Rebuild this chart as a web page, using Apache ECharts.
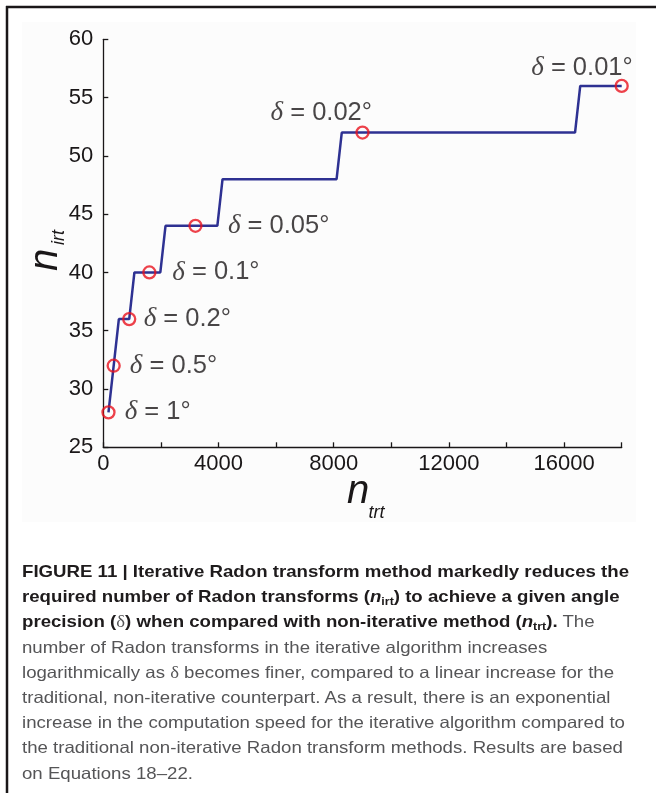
<!DOCTYPE html>
<html>
<head>
<meta charset="utf-8">
<script src="https://cdn.jsdelivr.net/npm/echarts@6/dist/echarts.min.js"></script>
<style>
  html, body { margin: 0; padding: 0; background: #fff; }
  #wrap { position: relative; width: 656px; height: 793px; overflow: hidden; }
  #chart { position: absolute; left: 0; top: 0; width: 656px; height: 793px; }
  #caption {
    position: absolute; left: 22px; top: 559px;
    font-family: 'Liberation Sans', Arial, sans-serif;
    font-size: 16.5px; line-height: 25.2px; color: #555557;
    white-space: nowrap; transform-origin: 0 0;
  }
  #caption b { color: #1e1b1c; }
  #caption sub { font-size: 11px; vertical-align: -3px; line-height: 0; }
  #caption .sym { font-family: 'Liberation Serif', 'Times New Roman', serif; }
</style>
</head>
<body>
<div id="wrap">
  <div id="chart"></div>
  <div id="caption"><span id="capLine1"><b>FIGURE 11 | Iterative Radon transform method markedly reduces the</b></span><br><b>required number of Radon transforms (<i>n</i><sub>irt</sub>) to achieve a given angle</b><br><b>precision (</b><span class="sym">δ</span><b>) when compared with non-iterative method (<i>n</i><sub>trt</sub>).</b> The<br>number of Radon transforms in the iterative algorithm increases<br>logarithmically as <span class="sym">δ</span> becomes finer, compared to a linear increase for the<br>traditional, non-iterative counterpart. As a result, there is an exponential<br>increase in the computation speed for the iterative algorithm compared to<br>the traditional non-iterative Radon transform methods. Results are based<br>on Equations 18–22.</div>
</div>
<script>
// Staircase of iterative transforms (n_irt) against non-iterative transforms (n_trt)
const stepTrt = [180, 540, 900, 1080, 1980, 2160, 3960, 4140, 8100, 8280, 16380, 16560, 18000];
const stepIrt = [28, 36, 36, 40, 40, 44, 44, 48, 48, 52, 52, 56, 56];

// Marked angle precisions
const deltaText = ['1°', '0.5°', '0.2°', '0.1°', '0.05°', '0.02°', '0.01°'];
const deltaTrt = [180, 360, 900, 1600, 3200, 9000, 18000];
const deltaIrt = [28, 32, 36, 40, 44, 52, 56];

// Axis ticks
const xTickLabels = [0, 4000, 8000, 12000, 16000];
const yTickLabels = [25, 30, 35, 40, 45, 50, 55, 60];

const INK = '#1a1718';
const SANS = "'Liberation Sans', Arial, Helvetica, sans-serif";
const SERIF = "'Liberation Serif', 'Times New Roman', serif";

// where each precision label sits relative to its circle
const labelPlacement = [
  { align: 'left', offset: [16.2, 0] },
  { align: 'left', offset: [16.2, 0] },
  { align: 'left', offset: [14.5, 0] },
  { align: 'left', offset: [22.9, 0] },
  { align: 'left', offset: [32.5, 0] },
  { align: 'right', offset: [9.5, -19.5] },
  { align: 'right', offset: [11, -18] }
];

const stepData = stepTrt.map((x, i) => [x, stepIrt[i]]);
const markData = deltaTrt.map((x, i) => ({
  value: [x, deltaIrt[i]],
  label: {
    formatter: '{d|δ}{t| = ' + deltaText[i] + '}',
    align: labelPlacement[i].align,
    offset: labelPlacement[i].offset
  }
}));

const chart = echarts.init(document.getElementById('chart'), null, { renderer: 'canvas' });

chart.setOption({
  animation: false,
  backgroundColor: '#ffffff',
  grid: { left: 103.3, top: 39.3, width: 518.4, height: 408, containLabel: false, outerBoundsMode: 'none' },
  xAxis: {
    type: 'value', min: 0, max: 18000, interval: 2000,
    axisLine: { show: true, onZero: false, lineStyle: { color: INK, width: 1.3 } },
    axisTick: { show: true, inside: true, length: 5, lineStyle: { color: INK, width: 1.3 } },
    splitLine: { show: false },
    axisLabel: {
      formatter: v => (xTickLabels.indexOf(v) >= 0 ? String(v) : ''),
      color: INK, fontSize: 22, fontFamily: SANS, margin: 6
    }
  },
  yAxis: {
    type: 'value', min: 25, max: 60, interval: 5,
    axisLine: { show: true, onZero: false, lineStyle: { color: INK, width: 1.3 } },
    axisTick: { show: true, inside: true, length: 5, lineStyle: { color: INK, width: 1.3 } },
    splitLine: { show: false },
    axisLabel: {
      formatter: v => (yTickLabels.indexOf(v) >= 0 ? String(v) : ''),
      color: INK, fontSize: 22, fontFamily: SANS, margin: 10
    }
  },
  series: [
    {
      type: 'line',
      data: stepData,
      showSymbol: false,
      lineStyle: { color: '#2e3192', width: 2.5 },
      z: 2
    },
    {
      type: 'scatter',
      data: markData,
      symbol: 'circle',
      symbolSize: 12,
      itemStyle: { color: 'rgba(0,0,0,0)', borderColor: '#e8121d', borderWidth: 2.3 },
      label: {
        show: true,
        position: 'inside',
        verticalAlign: 'middle',
        color: INK,
        rich: {
          d: { fontFamily: SERIF, fontStyle: 'italic', fontSize: 27, color: INK },
          t: { fontFamily: SANS, fontSize: 25.5, color: INK }
        }
      },
      z: 3
    }
  ],
  graphic: [
    // light panel behind the figure
    { type: 'rect', z: -100, silent: true,
      shape: { x: 22, y: 22, width: 614, height: 500 },
      style: { fill: '#fcfcfc' } },
    // page rules
    { type: 'line', silent: true, shape: { x1: 6, y1: 7, x2: 656, y2: 7 },
      style: { stroke: INK, lineWidth: 2.5 } },
    { type: 'line', silent: true, shape: { x1: 7, y1: 6, x2: 7, y2: 793 },
      style: { stroke: INK, lineWidth: 2.5 } },
    // x-axis title n_trt
    { type: 'text', silent: true, x: 358, y: 491.5,
      style: { text: 'n', font: 'italic 40px ' + SANS, fill: INK, align: 'center', verticalAlign: 'middle' } },
    { type: 'text', silent: true, x: 376.5, y: 512.8,
      style: { text: 'trt', font: 'italic 18px ' + SANS, fill: INK, align: 'center', verticalAlign: 'middle' } },
    // y-axis title n_irt
    { type: 'text', silent: true, x: 46, y: 260, rotation: Math.PI / 2,
      style: { text: 'n', font: 'italic 40px ' + SANS, fill: INK, align: 'center', verticalAlign: 'middle' } },
    { type: 'text', silent: true, x: 59, y: 237.5, rotation: Math.PI / 2,
      style: { text: 'irt', font: 'italic 18px ' + SANS, fill: INK, align: 'center', verticalAlign: 'middle' } }
  ]
});

// condense the caption to the column width
const cap = document.getElementById('caption');
const firstLine = document.getElementById('capLine1');
const scale = 607 / firstLine.getBoundingClientRect().width;
cap.style.transform = 'scaleX(' + scale.toFixed(4) + ')';
</script>
</body>
</html>
